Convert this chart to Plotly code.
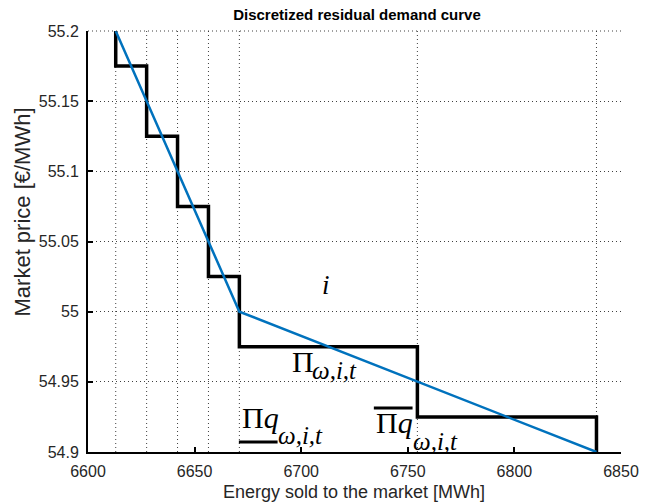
import plotly.graph_objects as go

# ---- data ----
q_breaks = [6613.0, 6627.5, 6642.0, 6656.5, 6671.0, 6754.5, 6838.5]   # MWh
curve_q = [6613.0, 6671.0, 6838.5]
curve_p = [55.2, 55.0, 54.9]
step_p = [55.2, 55.175, 55.125, 55.075, 55.025, 54.975, 54.925, 54.9]
x_ticks = [6600, 6650, 6700, 6750, 6800, 6850]
y_ticks = [54.9, 54.95, 55.0, 55.05, 55.1, 55.15, 55.2]
y_tick_text = ["54.9", "54.95", "55", "55.05", "55.1", "55.15", "55.2"]
x_range = [6600, 6850]
y_range = [54.9, 55.2]

# plot area in pixels
L, R, T, B = 88, 625, 31, 452
W, H = 651, 504


def px(xp):
    return x_range[0] + (xp - L) * (x_range[1] - x_range[0]) / (R - L)


def py(yp):
    return y_range[1] - (yp - T) * (y_range[1] - y_range[0]) / (B - T)


DOT = "1px,3px"
DOTC = "rgba(30,30,30,0.85)"

fig = go.Figure()

# vertical dotted lines at the breakpoints
for q in q_breaks:
    fig.add_trace(go.Scatter(x=[q, q], y=y_range, mode="lines",
                             line=dict(color=DOTC, width=1, dash=DOT),
                             hoverinfo="skip", showlegend=False))

step_x = q_breaks + [q_breaks[-1]]
fig.add_trace(go.Scatter(x=step_x, y=step_p, mode="lines", line_shape="vh",
                         line=dict(color="black", width=3.5), showlegend=False))
fig.add_trace(go.Scatter(x=curve_q, y=curve_p, mode="lines",
                         line=dict(color="#0072BD", width=2.5), showlegend=False))

serif = "Liberation Serif"
MAIN, SUB = 30, 25
ann = []
ann.append(dict(x=px(328), y=py(285), text="<i>i</i>", font=dict(family=serif, size=27, color="black")))
# Pi_{w,i,t}
ann.append(dict(x=px(292), y=py(361), xanchor="left", text="Π", font=dict(family=serif, size=MAIN, color="black")))
ann.append(dict(x=px(312), y=py(370), xanchor="left", text="<i>ω,i,t</i>", font=dict(family=serif, size=SUB, color="black")))
# underlined
ann.append(dict(x=px(241), y=py(417), xanchor="left", text="Π<i>q</i>", font=dict(family=serif, size=MAIN, color="black")))
ann.append(dict(x=px(277), y=py(435), xanchor="left", text="<i>ω,i,t</i>", font=dict(family=serif, size=SUB, color="black")))
# overlined
ann.append(dict(x=px(376), y=py(422), xanchor="left", text="Π<i>q</i>", font=dict(family=serif, size=MAIN, color="black")))
ann.append(dict(x=px(413), y=py(441), xanchor="left", text="<i>ω,i,t</i>", font=dict(family=serif, size=SUB, color="black")))
for a in ann:
    a.update(xref="x", yref="y", showarrow=False, yanchor="middle")
    a.setdefault("xanchor", "center")

sans = "Liberation Sans"
ann.append(dict(xref="paper", yref="paper", x=(356 - L) / (R - L), y=(B - 492) / (B - T),
                text="Energy sold to the market [MWh]", showarrow=False,
                xanchor="center", yanchor="middle", font=dict(family=sans, size=18, color="#262626")))
ann.append(dict(xref="paper", yref="paper", x=(22 - L) / (R - L), y=(B - 212) / (B - T),
                text="Market price [€/MWh]", showarrow=False, textangle=-90,
                xanchor="center", yanchor="middle", font=dict(family=sans, size=22, color="#262626")))

shapes = [
    dict(type="line", xref="x", yref="y", x0=px(240), x1=px(279), y0=py(442), y1=py(442),
         line=dict(color="black", width=3)),
    dict(type="line", xref="x", yref="y", x0=px(376), x1=px(415), y0=py(408), y1=py(408),
         line=dict(color="black", width=3)),
    dict(type="line", xref="paper", yref="paper", x0=0, x1=1, y0=1, y1=1,
         line=dict(color=DOTC, width=1, dash=DOT)),
]

fig.update_layout(
    width=W, height=H,
    margin=dict(l=L, r=W - R, t=T, b=H - B),
    paper_bgcolor="white", plot_bgcolor="white",
    title=dict(text="<b>Discretized residual demand curve</b>", x=(357) / W, xanchor="center",
               y=1 - 15 / H, yanchor="middle", yref="container",
               font=dict(family=sans, size=15, color="black")),
    annotations=ann, shapes=shapes,
    xaxis=dict(range=x_range, tickvals=x_ticks, ticks="inside", ticklen=5, tickwidth=1.5,
               tickcolor="black", showline=True, linewidth=2, linecolor="black",
               showgrid=False, zeroline=False, mirror=False, ticklabelstandoff=4,
               tickfont=dict(family=sans, size=16, color="#262626")),
    yaxis=dict(range=y_range, tickvals=y_ticks, ticktext=y_tick_text, ticks="inside", ticklen=5,
               tickwidth=1.5, tickcolor="black", showline=True, linewidth=2, linecolor="black",
               showgrid=True, gridcolor=DOTC, griddash=DOT, gridwidth=1,
               zeroline=False, mirror=False, ticklabelstandoff=4,
               tickfont=dict(family=sans, size=16, color="#262626")),
)

fig.write_html("out.html")
